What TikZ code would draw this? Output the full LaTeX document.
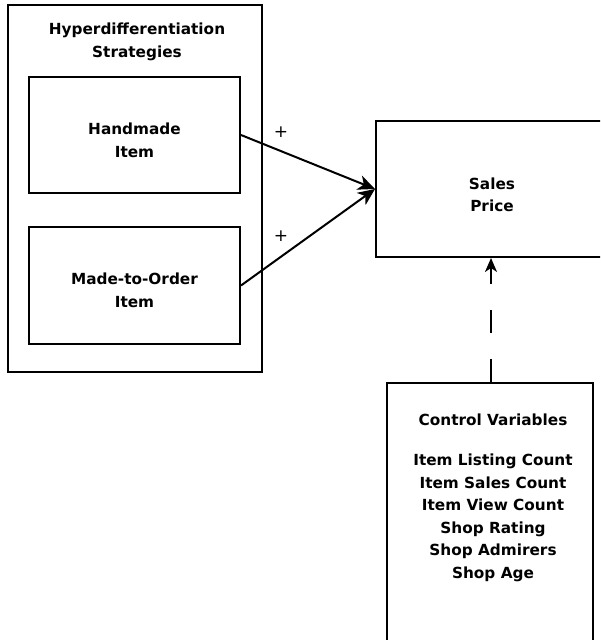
\documentclass[tikz,border=0pt]{standalone}
\usepackage{fontspec}
\setmainfont{DejaVu Sans}
\usetikzlibrary{arrows.meta}

\tikzset{
  frame/.style={draw=black, line width=2pt, rectangle, inner sep=0pt},
  lbl/.style={font=\fontsize{15.3}{22.5}\selectfont\bfseries, align=center, inner sep=0pt},
  plus/.style={font=\fontsize{17}{17}\selectfont, inner sep=0pt},
  link/.style={line width=2pt, -{Stealth[length=17pt, width=15pt, inset=5pt]}},
  ctrl/.style={line width=2pt, dash pattern=on 23pt off 26pt,
    -{Stealth[length=14pt, width=12pt, inset=4pt]}}
}

\begin{document}
\begin{tikzpicture}[x=1pt, y=-1pt]
  \clip (0,0) rectangle (600,640);
  \fill[white] (0,0) rectangle (600,640);

  % outer group frame
  \node[frame, minimum width=254pt, minimum height=367pt] (group) at (135,188.5) {};
  \node[lbl] (grouptitle) at (137,42) {Hyperdifferentiation\\Strategies};

  % strategy boxes
  \node[frame, minimum width=211pt, minimum height=116pt] (hand) at (134.5,135) {};
  \node[lbl] (handtxt) at (134.5,140.5) {Handmade\\Item};
  \node[frame, minimum width=211pt, minimum height=117pt] (made) at (134.5,285.5) {};
  \node[lbl] (madetxt) at (134.5,290.5) {Made-to-Order\\Item};

  % outcome box
  \node[frame, minimum width=232pt, minimum height=136pt] (sales) at (492,189) {};
  \node[lbl] (salestxt) at (492,195) {Sales\\Price};

  % control variables box
  \node[frame, minimum width=206pt, minimum height=277pt] (ctrl) at (490,521.5) {};
  \node[lbl] (ctrltitle) at (493,420) {Control Variables};
  \node[lbl] (ctrllist) at (493,518) {Item Listing Count\\Item Sales Count\\Item View Count\\Shop Rating\\Shop Admirers\\Shop Age};

  % effects
  \draw[link] (hand.east) -- (sales.west);
  \draw[link] (made.east) -- (sales.west);
  \node[plus] (p1) at (281,132) {+};
  \node[plus] (p2) at (281,236) {+};

  % control path
  \coordinate (cx) at (491,0);
  \draw[ctrl] (ctrl.north -| cx) -- (sales.south -| cx);
\end{tikzpicture}
\end{document}
